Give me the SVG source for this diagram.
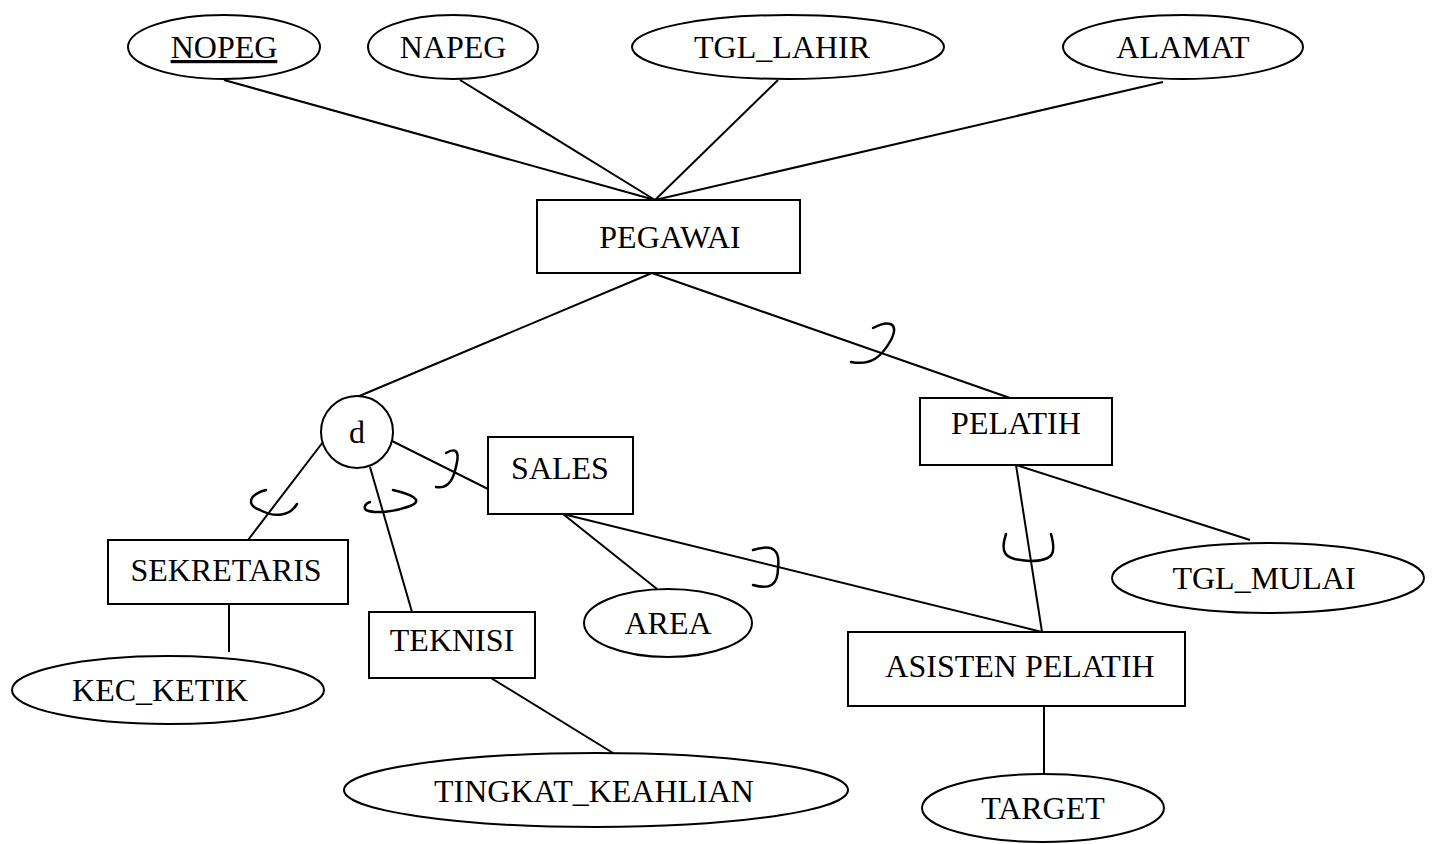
<svg xmlns="http://www.w3.org/2000/svg" width="1434" height="844" viewBox="0 0 1434 844">
<style>
.s{fill:#fff;stroke:#000;stroke-width:2}
.c{fill:none;stroke:#000;stroke-width:2}
.a{fill:none;stroke:#000;stroke-width:2.5;stroke-linecap:round}
text{font-family:"Liberation Serif","Times New Roman",serif;font-size:32px;fill:#000;text-anchor:middle}
</style>
<rect width="1434" height="844" fill="#fff"/>
<g id="connectors">
<line class="c" x1="224" y1="80" x2="655" y2="200"/>
<line class="c" x1="460" y1="80" x2="655" y2="200"/>
<line class="c" x1="778" y1="80" x2="655" y2="200"/>
<line class="c" x1="1163" y1="82" x2="655" y2="200"/>
<line class="c" x1="652" y1="273" x2="357" y2="397"/>
<line class="c" x1="652" y1="273" x2="1010" y2="398"/>
<line class="c" x1="323" y1="442" x2="248" y2="540"/>
<line class="c" x1="370" y1="467" x2="412" y2="612"/>
<line class="c" x1="392" y1="441" x2="488" y2="489"/>
<line class="c" x1="563" y1="514" x2="657" y2="589"/>
<line class="c" x1="563" y1="514" x2="1042" y2="632"/>
<line class="c" x1="1016" y1="465" x2="1042" y2="632"/>
<line class="c" x1="1016" y1="465" x2="1250" y2="540"/>
<line class="c" x1="229" y1="604" x2="229" y2="652"/>
<line class="c" x1="491" y1="678" x2="613" y2="753"/>
<line class="c" x1="1044" y1="706" x2="1044" y2="775"/>
<path class="a" d="M 873 328 C 888 320, 900 322, 891 340 C 882 356, 872 366, 851 362"/>
<path class="a" d="M 266 490 C 250 494, 245 505, 260 510 C 275 518, 290 516, 297 504"/>
<path class="a" d="M 393 490 C 410 494, 425 500, 410 506 C 395 512, 375 514, 366 510 C 363 507, 366 503, 370 502"/>
<path class="a" d="M 446 453 C 456 447, 459 452, 457 462 C 455 472, 452 490, 436 487"/>
<path class="a" d="M 753 550 C 775 543, 780 552, 778 568 C 778 585, 770 590, 753 585"/>
<path class="a" d="M 1006 534 C 1000 552, 1003 560, 1030 561 C 1055 561, 1056 552, 1051 534"/>
</g>
<g id="nopeg"><ellipse class="s" cx="224" cy="47" rx="96" ry="32"/><text x="224" y="58" text-decoration="underline">NOPEG</text></g>
<g id="napeg"><ellipse class="s" cx="453" cy="47" rx="85" ry="32"/><text x="453" y="58">NAPEG</text></g>
<g id="tgl_lahir"><ellipse class="s" cx="788" cy="47" rx="156" ry="32"/><text x="782" y="58">TGL_LAHIR</text></g>
<g id="alamat"><ellipse class="s" cx="1183" cy="47" rx="120" ry="32"/><text x="1183" y="58">ALAMAT</text></g>
<g id="pegawai"><rect class="s" x="537" y="200" width="263" height="73"/><text x="670" y="248">PEGAWAI</text></g>
<g id="d"><circle class="s" cx="357" cy="432" r="36"/><text x="357" y="443">d</text></g>
<g id="pelatih"><rect class="s" x="920" y="398" width="192" height="67"/><text x="1016" y="434">PELATIH</text></g>
<g id="sales"><rect class="s" x="488" y="437" width="145" height="77"/><text x="560" y="479">SALES</text></g>
<g id="sekretaris"><rect class="s" x="108" y="540" width="240" height="64"/><text x="226" y="581">SEKRETARIS</text></g>
<g id="teknisi"><rect class="s" x="369" y="612" width="166" height="66"/><text x="452" y="651">TEKNISI</text></g>
<g id="area"><ellipse class="s" cx="668" cy="623" rx="84" ry="34"/><text x="668" y="634">AREA</text></g>
<g id="asisten_pelatih"><rect class="s" x="848" y="632" width="337" height="74"/><text x="1020" y="677">ASISTEN PELATIH</text></g>
<g id="tgl_mulai"><ellipse class="s" cx="1268" cy="578" rx="156" ry="35"/><text x="1264" y="589">TGL_MULAI</text></g>
<g id="kec_ketik"><ellipse class="s" cx="168" cy="690" rx="156" ry="34"/><text x="160" y="701">KEC_KETIK</text></g>
<g id="tingkat_keahlian"><ellipse class="s" cx="596" cy="790" rx="252" ry="37"/><text x="594" y="802">TINGKAT_KEAHLIAN</text></g>
<g id="target"><ellipse class="s" cx="1043" cy="808" rx="121" ry="34"/><text x="1043" y="819">TARGET</text></g>
</svg>
